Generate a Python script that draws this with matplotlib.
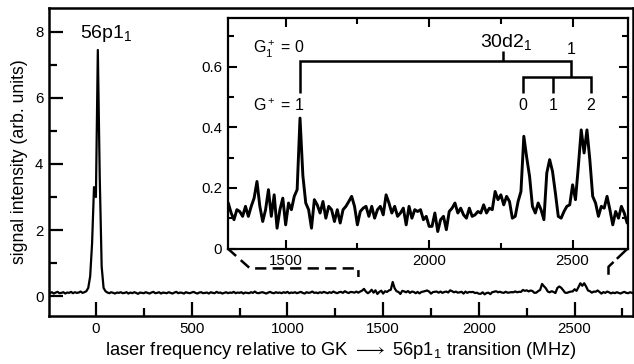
import numpy as np
import matplotlib
matplotlib.use('Agg')
import matplotlib.pyplot as plt
from matplotlib.ticker import MultipleLocator, FuncFormatter

plt.rcParams['font.family'] = ['Liberation Sans', 'DejaVu Sans']
plt.rcParams['mathtext.fontset'] = 'custom'
plt.rcParams['mathtext.rm'] = 'Liberation Sans'
plt.rcParams['mathtext.it'] = 'Liberation Sans:italic'
plt.rcParams['mathtext.default'] = 'regular'

# scan grid (MHz), one reading every 10 MHz
freq_start, freq_stop, freq_step = -240, 2800, 10

# signal, split in pieces along the scan
sig_left = [0.09, 0.12, 0.08, 0.11, 0.13, 0.09, 0.10, 0.12, 0.08, 0.11,
            0.10, 0.13, 0.09, 0.12, 0.10, 0.11, 0.14, 0.10, 0.12, 0.15,
            0.25]                                             # -240 .. -40
sig_peak = [0.6, 1.6, 3.3, 3.0, 7.45, 3.6, 0.9, 0.25]         # -30 .. 40
sig_mid = [0.15, 0.11, 0.09, 0.12, 0.10, 0.08, 0.11, 0.10, 0.12, 0.09,
           0.10, 0.12, 0.08, 0.11, 0.09, 0.12, 0.10, 0.07, 0.11, 0.10,
           0.09, 0.12, 0.10, 0.08, 0.11, 0.13, 0.09, 0.10, 0.12, 0.08,
           0.11, 0.10, 0.09, 0.12, 0.10, 0.08, 0.11, 0.13, 0.09, 0.11,
           0.10, 0.08, 0.12, 0.10, 0.09, 0.11, 0.13, 0.10, 0.08, 0.11,
           0.12, 0.09, 0.10, 0.11, 0.08, 0.12, 0.10, 0.09, 0.13, 0.10,
           0.11, 0.08, 0.10, 0.12, 0.09, 0.11, 0.10, 0.13, 0.09, 0.11,
           0.10, 0.12, 0.08, 0.11, 0.10, 0.09, 0.12, 0.10, 0.14, 0.10,
           0.09, 0.11, 0.12, 0.10, 0.08, 0.11, 0.13, 0.10, 0.09, 0.12,
           0.10, 0.11, 0.09, 0.12, 0.10, 0.13, 0.09, 0.11, 0.10, 0.12,
           0.09, 0.11, 0.13, 0.10, 0.08, 0.12, 0.10, 0.11, 0.14, 0.10,
           0.11, 0.09, 0.12, 0.10, 0.13, 0.11, 0.09, 0.12, 0.10, 0.14,
           0.11, 0.09, 0.12, 0.13, 0.10]                      # 50 .. 1290
sig_zoom = [0.150, 0.117, 0.095, 0.128, 0.122, 0.106, 0.139, 0.106, 0.139, 0.166,
            0.221, 0.139, 0.089, 0.128, 0.194, 0.106, 0.177, 0.067, 0.128, 0.166,
            0.078, 0.150, 0.128, 0.172, 0.194, 0.430, 0.240, 0.150, 0.128, 0.067,
            0.161, 0.144, 0.117, 0.155, 0.100, 0.139, 0.128, 0.089, 0.128, 0.084,
            0.128, 0.139, 0.155, 0.172, 0.139, 0.078, 0.122, 0.133, 0.139, 0.106,
            0.139, 0.100, 0.128, 0.139, 0.111, 0.177, 0.150, 0.117, 0.139, 0.106,
            0.117, 0.133, 0.078, 0.139, 0.100, 0.128, 0.122, 0.128, 0.095, 0.106,
            0.073, 0.073, 0.117, 0.056, 0.095, 0.106, 0.062, 0.122, 0.133, 0.150,
            0.117, 0.133, 0.111, 0.100, 0.133, 0.106, 0.111, 0.122, 0.117, 0.144,
            0.117, 0.133, 0.128, 0.188, 0.161, 0.177, 0.144, 0.172, 0.155, 0.100,
            0.106, 0.155, 0.188, 0.370, 0.300, 0.238, 0.139, 0.117, 0.150, 0.128,
            0.095, 0.249, 0.293, 0.254, 0.183, 0.106, 0.100, 0.122, 0.139, 0.144,
            0.210, 0.161, 0.271, 0.391, 0.315, 0.391, 0.293, 0.172, 0.150, 0.106,
            0.139, 0.133, 0.172, 0.128, 0.078, 0.122, 0.100, 0.139, 0.117, 0.084]  # 1300 .. 2690
sig_right = [0.11, 0.09, 0.12, 0.10, 0.08, 0.11, 0.13, 0.10, 0.09, 0.12, 0.10]  # 2700 .. 2800

# G+ level positions (MHz) for the 30d2_1 assignment
g_line_x = 1550
center_x = 2256
split_x = 2494
sub_x = [2328, 2432, 2563]
sub_labels = ['0', '1', '2']

freq = np.arange(freq_start, freq_stop + freq_step, freq_step)
signal = np.array(sig_left + sig_peak + sig_mid + sig_zoom + sig_right)

fig = plt.figure(figsize=(6.34, 3.64), dpi=100)

# main panel
ax = fig.add_axes([49 / 634, 1 - 316 / 364, 584 / 634, 308 / 364])
ax.plot(freq, signal, color='black', lw=1.6)
ax.set_xlim(-245, 2805)
ax.set_ylim(-0.6, 8.72)
ax.xaxis.set_major_locator(MultipleLocator(500))
ax.xaxis.set_minor_locator(MultipleLocator(250))
ax.yaxis.set_major_locator(MultipleLocator(2))
ax.yaxis.set_minor_locator(MultipleLocator(1))
ax.tick_params(which='both', direction='in', width=1.6, labelsize=10.8, pad=4)
ax.tick_params(which='major', length=10)
ax.tick_params(which='minor', length=5.5)
for s in ax.spines.values():
    s.set_linewidth(1.8)
ax.set_xlabel('laser frequency relative to GK $\\longrightarrow$ 56p1$_1$ transition (MHz)',
              fontsize=13.2, labelpad=3)
ax.set_ylabel('signal intensity (arb. units)', fontsize=12.7, labelpad=5)
ax.text(-83, 7.95, '56p1$_1$', fontsize=14, ha='left', va='center')

# zoomed inset
axin = fig.add_axes([227.7 / 634, 1 - 248.5 / 364, 400 / 634, 230.5 / 364])
axin.plot(freq, signal, color='black', lw=2.1)
axin.set_xlim(1298, 2692)
axin.set_ylim(0, 0.76)
axin.xaxis.set_major_locator(MultipleLocator(500))
axin.xaxis.set_minor_locator(MultipleLocator(250))
axin.yaxis.set_major_locator(MultipleLocator(0.2))
axin.yaxis.set_minor_locator(MultipleLocator(0.1))
axin.yaxis.set_major_formatter(FuncFormatter(lambda v, _: '0' if abs(v) < 1e-9 else f'{v:.1f}'))
axin.tick_params(which='both', direction='in', top=True, right=True, width=1.5,
                 labelsize=10.8, pad=4)
axin.tick_params(which='major', length=6.5)
axin.tick_params(which='minor', length=4)
for s in axin.spines.values():
    s.set_linewidth(1.6)

# assignment brackets
bk = dict(color='black', lw=1.8, solid_joinstyle='miter', solid_capstyle='butt')
axin.plot([g_line_x, g_line_x, split_x, split_x], [0.512, 0.617, 0.617, 0.565], **bk)
axin.plot([center_x, center_x], [0.617, 0.650], **bk)
axin.plot([sub_x[0], sub_x[0], sub_x[2], sub_x[2]], [0.512, 0.565, 0.565, 0.512], **bk)
axin.plot([sub_x[1], sub_x[1]], [0.565, 0.512], **bk)

axin.text(center_x + 12, 0.648, '30d2$_1$', fontsize=14, ha='center', va='bottom')
axin.text(1568, 0.655, 'G$_1^+$ = 0', fontsize=11.5, ha='right', va='center')
axin.text(1568, 0.47, 'G$^+$ = 1', fontsize=11.5, ha='right', va='center')
axin.text(split_x, 0.655, '1', fontsize=11.5, ha='center', va='center')
for x, lab in zip(sub_x, sub_labels):
    axin.text(x, 0.47, lab, fontsize=11.5, ha='center', va='center')

# dashed guides from inset corners down to the trace
inv = ax.transData.inverted()
c_left = inv.transform(axin.transAxes.transform((0, 0)))
c_right = inv.transform(axin.transAxes.transform((1, 0)))
ax.plot([c_left[0], 805, 1371, 1371], [c_left[1], 0.84, 0.84, 0.58],
        color='black', lw=1.8, ls=(0, (4.5, 2.5)), clip_on=False)
ax.plot([c_right[0], 2677, 2677], [c_right[1], 0.89, 0.60],
        color='black', lw=1.8, ls=(0, (6, 1.8)), clip_on=False)

fig.savefig('out.png', dpi=100)
